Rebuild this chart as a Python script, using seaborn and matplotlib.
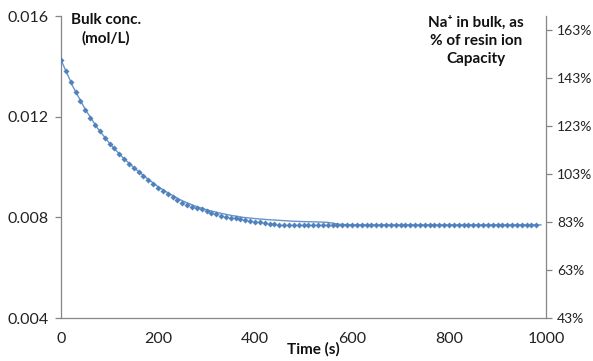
import matplotlib
matplotlib.use("Agg")
import matplotlib.pyplot as plt
from matplotlib.ticker import FuncFormatter
import numpy as np
import pandas as pd
import seaborn as sns

# Measured bulk concentration, sampled every 10 s
time_s = list(range(0, 990, 10))
bulk_conc = [
    0.01425, 0.01382, 0.01338, 0.01298, 0.01263, 0.01227, 0.01195, 0.01167, 0.01143, 0.01116,
    0.01092, 0.01074, 0.01052, 0.01032, 0.01012, 0.00997, 0.00981, 0.00965, 0.00947, 0.00933,
    0.00917, 0.00905, 0.00893, 0.00881, 0.00870, 0.00858, 0.00850, 0.00842, 0.00838, 0.00832,
    0.00826, 0.00819, 0.00813, 0.00807, 0.00802, 0.00799, 0.00797, 0.00793, 0.00789, 0.00786,
    0.00783, 0.00781, 0.00778, 0.00775, 0.00773, 0.00771, 0.00770, 0.00770, 0.00770, 0.00770,
    0.00770, 0.00770, 0.00770, 0.00770, 0.00770, 0.00770, 0.00770, 0.00770, 0.00770, 0.00770,
    0.00770, 0.00770, 0.00770, 0.00770, 0.00770, 0.00770, 0.00770, 0.00770, 0.00770, 0.00770,
    0.00770, 0.00770, 0.00770, 0.00770, 0.00770, 0.00770, 0.00770, 0.00770, 0.00770, 0.00770,
    0.00770, 0.00770, 0.00770, 0.00770, 0.00770, 0.00770, 0.00770, 0.00770, 0.00770, 0.00770,
    0.00770, 0.00770, 0.00770, 0.00770, 0.00770, 0.00770, 0.00770, 0.00770, 0.00770,
]

# Model curve for the bulk concentration
model_time_s = [0, 25, 50, 75, 100, 125, 150, 175, 200, 225, 250, 275, 300, 325, 350,
                375, 400, 425, 450, 475, 500, 525, 550, 575, 600, 700, 800, 900, 990]
model_conc = [0.01425, 0.01318, 0.01229, 0.01155, 0.01094, 0.01042, 0.00998, 0.00958,
              0.00922, 0.00892, 0.00866, 0.00846, 0.00830, 0.00818, 0.00808, 0.00800,
              0.00795, 0.00791, 0.00788, 0.00785, 0.00783, 0.00782, 0.00780, 0.00772,
              0.00770, 0.00770, 0.00770, 0.00770, 0.00770]

x_ticks = [0, 200, 400, 600, 800, 1000]
left_ticks = [0.004, 0.008, 0.012, 0.016]
right_ticks = [43, 63, 83, 103, 123, 143, 163]

measured = pd.DataFrame({"t": time_s, "c": bulk_conc})
model = pd.DataFrame({"t": model_time_s, "c": model_conc})

sns.set_style("white")
plt.rcParams["font.family"] = ["Lato", "DejaVu Sans"]

BLUE = "#4F81BD"
AXIS_GREY = "#868686"
TEXT = "#222222"

fig = plt.figure(figsize=(5.93, 3.61), dpi=100)
ax = fig.add_axes([61 / 593, 1 - 318 / 361, 485 / 593, 302 / 361])

sns.lineplot(data=model, x="t", y="c", ax=ax, color=BLUE, linewidth=1.0, alpha=0.85)
sns.scatterplot(data=measured, x="t", y="c", ax=ax, color=BLUE, marker="D", s=8,
                edgecolor=BLUE, linewidth=0.2, zorder=3)

ax.set_xlim(0, 1000)
ax.set_ylim(0.004, 0.016)
ax.set_xticks(x_ticks)
ax.set_yticks(left_ticks)
ax.yaxis.set_major_formatter(FuncFormatter(lambda v, p: f"{v:.3f}"))
ax.set_xlabel("")
ax.set_ylabel("")

for side in ("top", "right"):
    ax.spines[side].set_visible(False)
for side in ("left", "bottom"):
    ax.spines[side].set_color(AXIS_GREY)
    ax.spines[side].set_linewidth(0.9)
ax.tick_params(axis="both", which="major", direction="out", length=4, width=0.9,
               color=AXIS_GREY, labelsize=11.5, labelcolor=TEXT)
ax.tick_params(axis="x", pad=6)
ax.tick_params(axis="y", pad=5)

# Secondary axis: Na+ as percentage of resin ion capacity
ax2 = ax.twinx()
ax2.set_ylim(43, 168.8)
ax2.set_yticks(right_ticks)
ax2.yaxis.set_major_formatter(FuncFormatter(lambda v, p: f"{v:.0f}%"))
for side in ("top", "left", "bottom"):
    ax2.spines[side].set_visible(False)
ax2.spines["right"].set_color(AXIS_GREY)
ax2.spines["right"].set_linewidth(0.9)
ax2.tick_params(axis="y", direction="out", length=4, width=0.9, color=AXIS_GREY,
                labelsize=10, labelcolor=TEXT, pad=4)

fig.text(106 / 593, 1 - 29 / 361, "Bulk conc.\n(mol/L)", ha="center", va="center",
         fontsize=11, fontweight="bold", color="#111111", linespacing=1.35)
fig.text(476 / 593, 1 - 41 / 361, "Na\u207a in bulk, as\n% of resin ion\nCapacity",
         ha="center", va="center", fontsize=11, fontweight="bold", color="#111111",
         linespacing=1.35)
fig.text(313 / 593, 1 - 349 / 361, "Time (s)", ha="center", va="center",
         fontsize=11, fontweight="bold", color="#111111")

fig.savefig("out.png", dpi=100)
